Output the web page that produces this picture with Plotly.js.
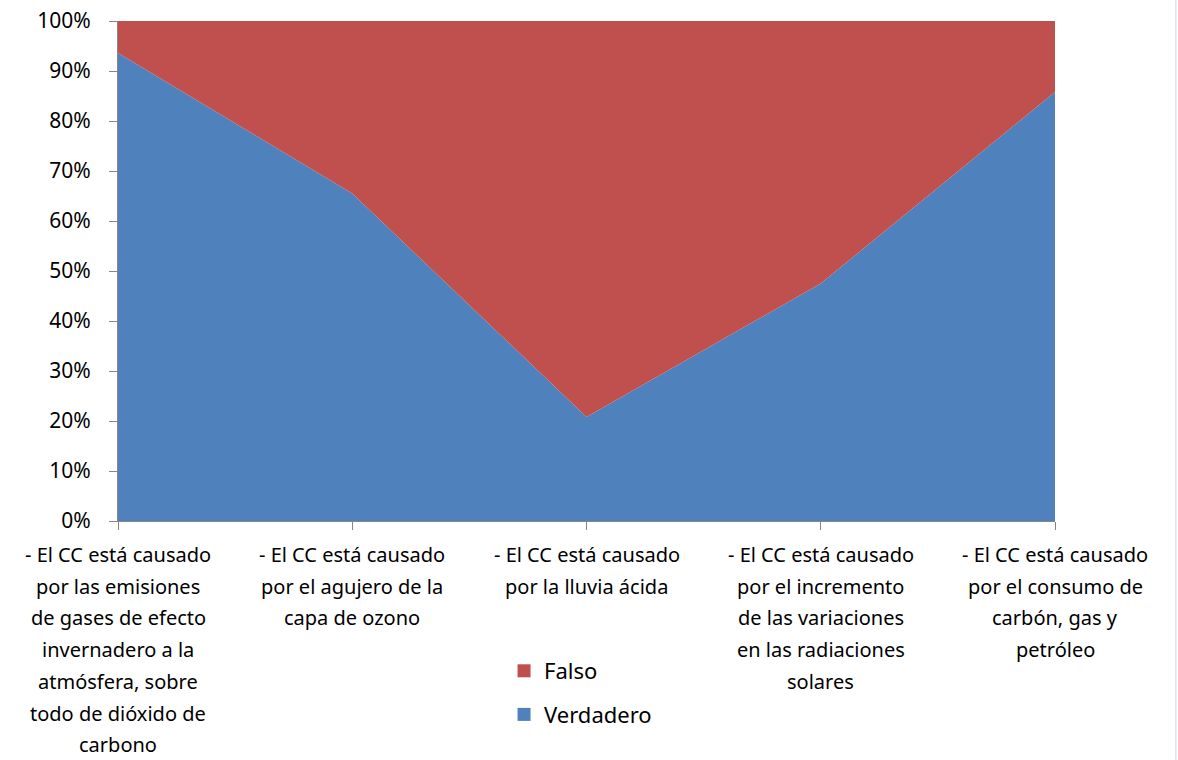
<!DOCTYPE html>
<html><head><meta charset="utf-8">
<script src="https://cdn.plot.ly/plotly-3.0.1.min.js"></script>
<style>body{margin:0;padding:0;background:#fff}#chart{width:1178px;height:760px}</style>
</head><body><div id="chart"></div>
<script>
const categories = [
  "- El CC está causado<br>por las emisiones<br>de gases de efecto<br>invernadero a la<br>atmósfera, sobre<br>todo de dióxido de<br>carbono",
  "- El CC está causado<br>por el agujero de la<br>capa de ozono",
  "- El CC está causado<br>por la lluvia ácida",
  "- El CC está causado<br>por el incremento<br>de las variaciones<br>en las radiaciones<br>solares",
  "- El CC está causado<br>por el consumo de<br>carbón, gas y<br>petróleo"
];
const verdadero = [93.6, 65.5, 20.8, 47.5, 85.8];
const falso = [6.4, 34.5, 79.2, 52.5, 14.2];
const seriesNames = ["Verdadero", "Falso"];
const yTickVals = [0,10,20,30,40,50,60,70,80,90,100];
const yTickText = ["0%","10%","20%","30%","40%","50%","60%","70%","80%","90%","100%"];

const BLUE = "#4F81BD", RED = "#C0504D";
const FONT = "'Noto Sans', sans-serif";
const idx = categories.map((_, i) => i);

const traces = [
  {x: idx, y: verdadero, name: seriesNames[0], type: "scatter", mode: "none", stackgroup: "one",
   fillcolor: BLUE, showlegend: false, hoverinfo: "skip"},
  {x: idx, y: falso, name: seriesNames[1], type: "scatter", mode: "none", stackgroup: "one",
   fillcolor: RED, showlegend: false, hoverinfo: "skip"},
  {x: [null], y: [null], name: seriesNames[1], type: "scatter", mode: "markers",
   marker: {symbol: "square", size: 13, color: RED}, legendgroup: "f"},
  {x: [null], y: [null], name: seriesNames[0], type: "scatter", mode: "markers",
   marker: {symbol: "square", size: 13, color: BLUE}, legendgroup: "v"}
];

const annotations = [];
categories.forEach((lab, i) => {
  lab.split("<br>").forEach((line, j) => {
    annotations.push({x: i, xref: "x", y: 0, yref: "paper", yanchor: "top", xanchor: "center",
      yshift: -19 - j * 31.7, text: line, showarrow: false, borderpad: 0,
      font: {family: FONT, size: 20, color: "#000"}});
  });
});

const layout = {
  width: 1178, height: 760,
  margin: {l: 118, r: 123, t: 21, b: 239, pad: 0},
  paper_bgcolor: "#fff", plot_bgcolor: "#fff",
  font: {family: FONT, size: 20, color: "#000"},
  xaxis: {type: "linear", range: [0, 4], tickvals: idx, ticktext: idx.map(() => ""),
    showgrid: false, zeroline: false, showline: true, linecolor: "#868686", linewidth: 1,
    ticks: "outside", ticklen: 8, tickcolor: "#868686", fixedrange: true},
  yaxis: {range: [0, 100], tickvals: yTickVals, ticktext: yTickText,
    showgrid: false, zeroline: false, showline: true, linecolor: "#868686", linewidth: 1,
    ticks: "outside", ticklen: 8, tickcolor: "#868686", ticklabelstandoff: 14,
    tickfont: {family: FONT, size: 21, color: "#000"}, fixedrange: true},
  showlegend: true,
  legend: {x: 0.412, xanchor: "left", y: -0.258, yanchor: "top", orientation: "v",
    traceorder: "grouped", tracegroupgap: 12, itemwidth: 30,
    font: {family: FONT, size: 22, color: "#000"}, bgcolor: "rgba(0,0,0,0)"},
  annotations: annotations,
  shapes: [{type: "line", xref: "paper", yref: "paper", x0: 1.129, x1: 1.129, y0: -1, y1: 2,
    line: {color: "#C9D6E8", width: 1}}]
};

Plotly.newPlot("chart", traces, layout, {displayModeBar: false, staticPlot: true});
</script></body></html>
